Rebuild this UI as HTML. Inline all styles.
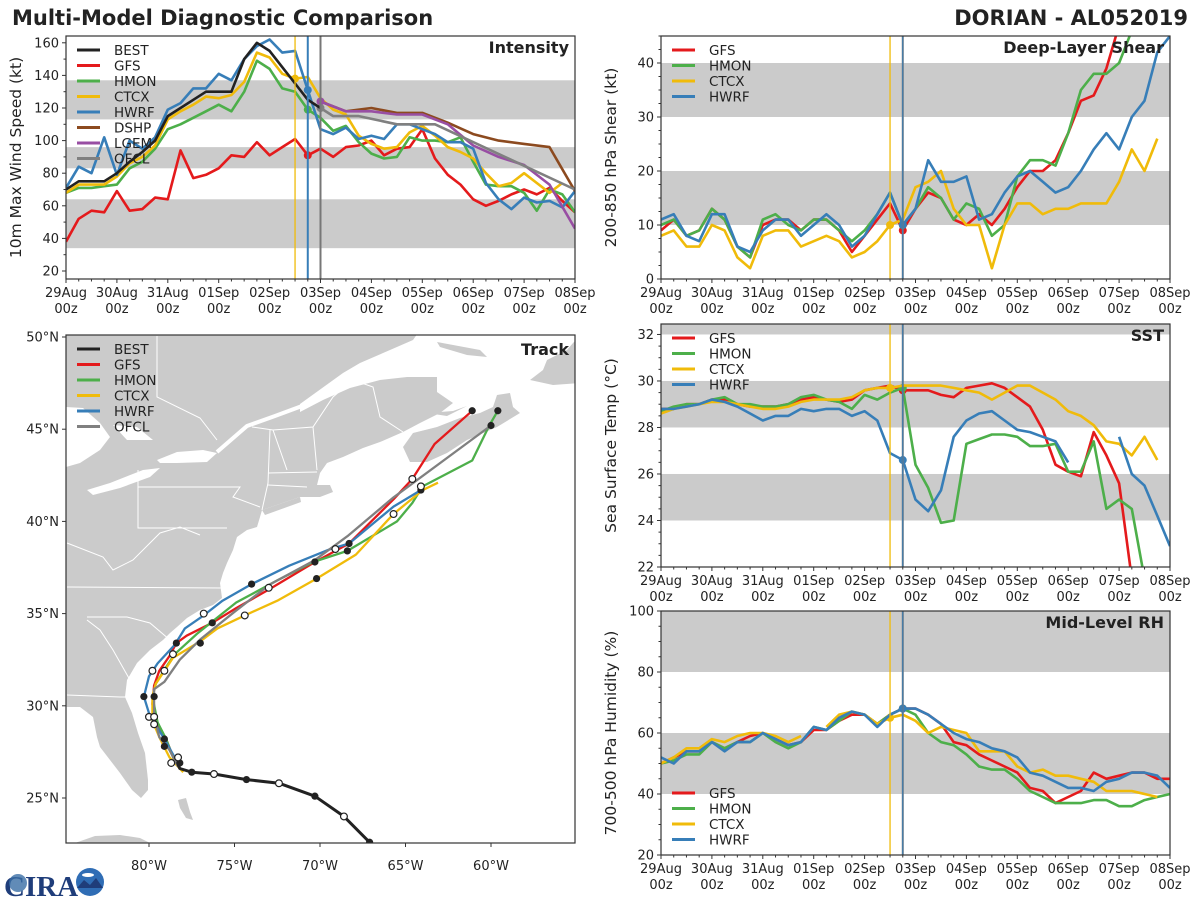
<!DOCTYPE html>
<html><head><meta charset="utf-8"><title>Multi-Model Diagnostic Comparison</title>
<style>
html,body{margin:0;padding:0;background:#fff;}
svg{display:block;font-family:"DejaVu Sans","Liberation Sans",sans-serif;}
</style></head>
<body>
<svg id="fig" xmlns="http://www.w3.org/2000/svg" width="1200" height="900" viewBox="0 0 1200 900">
<rect x="0" y="0" width="1200" height="900" fill="#fff"/>
<text x="12" y="25" font-size="21" font-weight="bold" fill="#222">Multi-Model Diagnostic Comparison</text>
<text x="1188" y="25" font-size="21" font-weight="bold" fill="#222" text-anchor="end">DORIAN - AL052019</text>
<defs>
<clipPath id="clipInt"><rect x="66" y="36" width="509" height="243"/></clipPath>
<clipPath id="clipShr"><rect x="661" y="36" width="509" height="243"/></clipPath>
<clipPath id="clipSst"><rect x="661" y="324" width="509" height="243"/></clipPath>
<clipPath id="clipRh"><rect x="661" y="611" width="509" height="244"/></clipPath>
<clipPath id="clipMap"><rect x="66" y="335" width="509" height="508"/></clipPath>
</defs>
<g clip-path="url(#clipMap)">
<rect x="66" y="335" width="509" height="508" fill="#ffffff"/>
<path fill="#cbcbcb" d="M60,707 L80,707 L93,717 L97,737 L100,747 L120,773 L132,790 L141,798 L148,790 L148,780 L145,753 L138,733 L132,713 L125,697 L127,680 L137,663 L150,650 L163,640 L170,633 L177,627 L187,618 L200,610 L213,605 L222,598 L220,583 L223,573 L227,563 L233,550 L237,537 L247,530 L257,527 L260,517 L262,510 L300,497 L320,497 L333,492 L330,485 L317,485 L320,473 L327,463 L343,457 L363,448 L380,442 L403,432 L420,423 L440,413 L453,403 L437,392 L437,377 L407,377 L380,380 L350,388 L323,400 L300,412 L300,404 L343,373 L360,363 L390,350 L413,340 L420,330 L60,330 Z"/>
<polyline fill="none" stroke="#fff" stroke-width="4" points="217,452 247,426 275,416 302,406"/>
<polygon fill="#cbcbcb" points="403,447 413,433 437,427 460,418 480,413 493,407 497,395 510,393 513,407 520,413 497,427 467,440 447,453 427,462 410,462"/>
<polygon fill="#cbcbcb" points="427,413 453,411 467,406 447,416"/>
<polygon fill="#cbcbcb" points="530,380 543,370 547,360 567,350 573,343 580,336 580,383 553,385"/>
<polygon fill="#cbcbcb" points="437,342 480,350 487,357 467,355 440,347"/>
<polygon fill="#cbcbcb" points="262,510 300,497 301,502 265,515"/>
<polygon fill="#cbcbcb" points="178,800 186,798 190,812 193,820 186,818 180,808"/>
<polygon fill="#cbcbcb" points="75,843 95,836 120,835 140,838 150,843"/>
<polygon fill="#fff" points="157,460 177,452 203,450 217,453 207,462 177,463 160,463"/>
<polygon fill="#fff" points="87,490 110,483 143,470 160,468 150,477 120,488 93,495"/>
<polygon fill="#fff" points="66,407 83,408 100,423 110,437 100,450 80,463 66,467"/>
<polygon fill="#fff" points="113,425 137,427 153,440 127,440"/>
<g fill="none" stroke="#fff" stroke-width="1">
<polyline fill="none" points="157,336 157,397 200,418 217,440"/>
<polyline fill="none" points="252,427 273,430 313,427 333,397 353,380 373,387 380,417 403,432"/>
<polyline fill="none" points="138,470 138,528 227,528"/>
<polyline fill="none" points="138,487 240,487 233,497 260,507"/>
<polyline fill="none" points="67,587 223,588"/>
<polyline fill="none" points="87,617 127,617 150,623 170,640"/>
<polyline fill="none" points="87,620 100,630 113,650 130,680"/>
<polyline fill="none" points="67,695 120,697 127,697"/>
<polyline fill="none" points="67,543 103,557 113,570 133,560 160,533 180,527 200,535"/>
<polyline fill="none" points="270,430 268,483 262,510"/>
<polyline fill="none" points="273,430 287,470"/>
<polyline fill="none" points="313,427 317,470"/>
<polyline fill="none" points="268,473 317,472"/>
<polyline fill="none" points="268,485 307,487"/>
</g>
</g>
<g id="plots"></g>
<g>
<text x="4" y="896" font-size="29" font-weight="bold" fill="#1f3d7a" font-family="Liberation Serif, serif">CIRA</text>
<circle cx="18" cy="883" r="9" fill="#3a6ea5" opacity="0.8"/>
<circle cx="90" cy="882" r="14" fill="#2f6db5"/>
<path d="M77,888 L84,880 L90,885 L96,878 L103,888 Z" fill="#1f3d7a"/>
<ellipse cx="88" cy="875" rx="6" ry="2" fill="#fff"/>
</g>
</svg>
<script>
// ---------- DATA ----------
const dayLabels = ['29Aug','30Aug','31Aug','01Sep','02Sep','03Sep','04Sep','05Sep','06Sep','07Sep','08Sep'];
const intBEST = [70,75,75,75,80,87,93,100,115,120,125,130,130,130,150,160,155,145,135,125,120];
const intGFS  = [38,52,57,56,69,57,58,65,64,94,77,79,83,91,90,99,91,96,101,91,95,90,96,97,100,91,95,96,107,89,79,73,64,60,63,67,70,67,71,63,56];
const intHMON = [68,71,71,72,73,83,87,95,107,110,114,118,122,118,130,149,144,132,130,119,114,106,109,99,92,89,90,102,100,100,99,102,87,73,72,72,68,57,70,67,56];
const intCTCX = [68,73,73,73,78,86,90,97,113,118,122,127,126,128,136,154,151,141,138,139,126,119,116,103,98,95,96,105,109,103,96,93,89,80,72,74,80,74,68,74];
const intHWRF = [71,84,80,102,79,100,95,102,119,123,132,132,141,137,150,158,162,154,155,131,107,104,108,101,103,101,110,110,107,104,99,99,95,74,64,58,65,62,63,59,69];
const intDSHPidx = [20,22,24,26,28,30,32,34,36,38,40];
const intDSHP = [124,118,120,117,117,111,104,100,98,96,69];
const intLGEM = [124,118,118,116,116,110,97,90,85,73,46];
const intOFCLidx = [20,21,23,26,29,40];
const intOFCL = [120,115,115,110,110,70];
const shrGFS  = [9,11,8,9,13,11,6,4,10,11,11,9,11,11,9,5,8,11,14,9,13,16,15,11,10,12,10,13,17,20,20,22,27,33,34,39,47];
const shrHMON = [10,11,8,9,13,11,6,4,11,12,10,9,11,11,9,7,9,12,16,10,13,17,15,11,14,13,8,10,19,22,22,21,27,35,38,38,40,46];
const shrCTCX = [8,9,6,6,10,9,4,2,8,9,9,6,7,8,7,4,5,7,10,11,17,18,20,13,10,10,2,10,14,14,12,13,13,14,14,14,18,24,20,26];
const shrHWRF = [11,12,8,7,12,12,6,5,9,11,11,8,10,12,10,6,8,12,16,10,13,22,18,18,19,11,12,16,19,20,18,16,17,20,24,27,24,30,33,42,45];
const sstGFS  = [28.8,28.8,29,29,29.2,29.2,29,28.9,28.9,28.9,29,29.2,29.3,29.2,29.1,29.2,29.6,29.7,29.8,29.6,29.6,29.6,29.4,29.3,29.7,29.8,29.9,29.7,29.3,28.9,27.9,26.4,26.1,25.9,27.8,26.8,25.6,21.5];
const sstHMON = [28.7,28.9,29,29,29.2,29.3,29,29,28.9,28.9,29,29.3,29.4,29.2,29.1,28.8,29.4,29.2,29.5,29.7,26.4,25.4,23.9,24,27.3,27.5,27.7,27.7,27.6,27.2,27.2,27.3,26.1,26.1,27.4,24.5,24.9,24.5,21.5];
const sstCTCX = [28.6,28.8,28.9,29,29.1,29.1,29,28.9,28.8,28.8,28.9,29.1,29.2,29.2,29.2,29.3,29.6,29.7,29.7,29.8,29.8,29.8,29.8,29.7,29.6,29.5,29.2,29.5,29.8,29.8,29.5,29.2,28.7,28.5,28.1,27.4,27.3,26.8,27.6,26.6];
const sstHWRF = [28.8,28.8,28.9,29,29.2,29.1,28.9,28.6,28.3,28.5,28.5,28.8,28.7,28.8,28.8,28.5,28.7,28.3,26.9,26.6,24.9,24.4,25.3,27.6,28.3,28.6,28.7,28.3,27.9,27.8,27.6,27.4,26.5,null,null,null,27.6,26,25.5,24.2,22.9];
const rhGFS  = [50,52,54,54,57,55,57,59,60,58,56,57,61,61,64,66,66,63,66,68,68,66,63,57,56,53,51,49,47,42,41,37,39,41,47,45,46,47,47,45,45];
const rhHMON = [50,51,53,53,57,55,57,57,60,57,55,57,62,61,64,67,66,63,66,68,66,60,57,56,53,49,48,48,45,41,39,37,37,37,38,38,36,36,38,39,40];
const rhCTCX = [50,52,55,55,58,57,59,60,60,59,57,59,null,62,66,67,66,63,65,66,64,60,62,61,60,54,54,54,49,47,48,46,46,45,44,41,41,41,40,39];
const rhHWRF = [52,50,54,54,57,54,57,57,60,58,56,57,62,61,65,67,66,62,66,68,68,66,63,60,58,57,55,54,52,47,46,44,42,42,41,44,45,47,47,46,42];
const trkBEST = [[-67.1,22.6],[-68.6,24.0],[-70.3,25.1],[-72.4,25.8],[-74.3,26.0],[-76.2,26.3],[-77.5,26.4],[-78.2,26.6],[-78.3,26.8]];
const trkGFS  = [[-78.5,27.0],[-79.0,28.2],[-79.6,29.1],[-79.8,30.1],[-79.7,31.1],[-79.4,31.9],[-78.8,32.7],[-78.4,33.4],[-77.8,33.8],[-76.3,34.5],[-74.9,35.3],[-73.0,36.3],[-70.3,37.8],[-68.3,38.8],[-65.7,41.2],[-64.6,42.3],[-63.3,44.2],[-61.1,46.0]];
const trkHMON = [[-78.5,27.0],[-79.0,28.2],[-79.5,29.1],[-79.8,30.5],[-79.6,31.2],[-79.0,32.1],[-78.5,32.8],[-77.2,33.9],[-74.9,35.6],[-72.5,36.8],[-70.4,37.8],[-68.4,38.4],[-65.5,40.0],[-64.6,41.0],[-64.0,41.9],[-61.1,43.3],[-60.1,45.2],[-59.6,46.0]];
const trkCTCX = [[-78.0,26.4],[-78.8,27.2],[-79.4,28.3],[-79.8,29.2],[-79.8,30.5],[-79.6,31.2],[-79.1,31.9],[-78.6,32.6],[-77.0,33.5],[-76.0,34.2],[-74.4,34.9],[-72.5,35.7],[-70.2,36.9],[-67.9,38.2],[-65.7,40.4],[-64.0,41.7],[-63.1,42.1]];
const trkHWRF = [[-78.5,27.2],[-79.1,28.2],[-79.7,29.1],[-80.0,29.6],[-80.3,30.5],[-80.0,31.6],[-79.5,32.3],[-78.5,33.3],[-77.9,34.2],[-76.8,34.9],[-75.7,35.7],[-74.0,36.6],[-71.8,37.6],[-69.4,38.5],[-68.3,38.8],[-65.7,40.8],[-64.1,41.7]];
const trkOFCL = [[-78.3,26.7],[-78.8,27.6],[-79.4,28.3],[-79.7,29.4],[-79.7,30.9],[-79.1,31.3],[-78.2,32.5],[-77.0,33.6],[-75.0,35.1],[-72.9,36.6],[-70.3,37.9],[-68.4,39.2],[-65.7,41.3],[-60.0,45.2]];
const trkFilled = [[-61.1,46.0],[-59.6,46.0],[-60.0,45.2],[-64.1,41.7],[-68.3,38.8],[-68.4,38.4],[-70.3,37.8],[-70.2,36.9],[-74.0,36.6],[-76.3,34.5],[-77.0,33.4],[-78.4,33.4],[-80.3,30.5],[-79.7,30.5],[-79.1,28.2],[-79.1,27.8],[-78.2,26.9],[-77.5,26.4],[-74.3,26.0],[-70.3,25.1],[-67.1,22.6]];
const trkOpen = [[-64.6,42.3],[-64.1,41.9],[-65.7,40.4],[-69.1,38.5],[-73.0,36.4],[-74.4,34.9],[-76.8,35.0],[-78.6,32.8],[-79.1,31.9],[-79.8,31.9],[-80.0,29.4],[-79.7,29.4],[-79.7,29.0],[-78.3,27.2],[-78.7,26.9],[-76.2,26.3],[-72.4,25.8],[-68.6,24.0]];
const lonTicks = [-80,-75,-70,-65,-60];
const latTicks = [50,45,40,35,30,25];

// ---------- RENDER ----------
const NS = 'http://www.w3.org/2000/svg';
const root = document.getElementById('plots');
function mk(tag, attrs, parent) {
  const e = document.createElementNS(NS, tag);
  for (const k in attrs) e.setAttribute(k, attrs[k]);
  (parent || root).appendChild(e);
  return e;
}
const C = {BEST:'#222222', GFS:'#e41a1c', HMON:'#4daf4a', CTCX:'#f0bb0a', HWRF:'#377eb8', DSHP:'#8c4a1f', LGEM:'#984ea3', OFCL:'#808080'};

function panel(cfg) {
  const xs = i => cfg.x0 + i * (cfg.x1 - cfg.x0) / 40;
  const ys = v => cfg.yb - (v - cfg.vmin) * (cfg.yb - cfg.yt) / (cfg.vmax - cfg.vmin);
  const g = mk('g', {});
  
  
  cfg.bands.forEach(b => {
    const y1 = Math.max(cfg.yt, ys(b[1])), y2 = Math.min(cfg.yb, ys(b[0]));
    const r = mk('rect', {x: cfg.x0, y: y1, width: cfg.x1 - cfg.x0, height: y2 - y1, fill: '#cbcbcb'}, g);
    
    
  });
  const sg = mk('g', {'clip-path': 'url(#' + cfg.clip + ')'}, g);
  
  
  cfg.series.forEach(s => {
    let d = '', pen = false;
    s.vals.forEach((v, k) => {
      const i = s.idx ? s.idx[k] : k;
      if (v === null) { pen = false; return; }
      d += (pen ? 'L' : 'M') + xs(i).toFixed(1) + ',' + ys(v).toFixed(1);
      pen = true;
    });
    const p = mk('path', {d: d, fill: 'none', stroke: C[s.key], 'stroke-width': 2.6, 'stroke-linejoin': 'round'}, sg);
    
    
    if (s.dot !== undefined) {
      const k = s.idx ? s.idx.indexOf(s.dot) : s.dot;
      const c = mk('circle', {cx: xs(s.dot), cy: ys(s.vals[k]), r: 4, fill: C[s.key]}, sg);
      
      
    }
  });
  cfg.vlines.forEach(v => {
    const l = mk('line', {x1: xs(v[0]), x2: xs(v[0]), y1: cfg.yt, y2: cfg.yb, stroke: v[1], 'stroke-width': v[2]}, g);
    
    
  });
  const fr = mk('rect', {x: cfg.x0, y: cfg.yt, width: cfg.x1 - cfg.x0, height: cfg.yb - cfg.yt, fill: 'none', stroke: '#333', 'stroke-width': 1.2}, g);
  
  
  for (let i = 0; i <= 40; i++) {
    const major = i % 4 === 0;
    const t = mk('line', {x1: xs(i), x2: xs(i), y1: cfg.yb, y2: cfg.yb + (major ? 4 : 2.5), stroke: '#333', 'stroke-width': 1}, g);
    
    
  }
  dayLabels.forEach((lab, d) => {
    const t = mk('text', {x: xs(d * 4), y: cfg.yb + 18, 'font-size': 13, 'text-anchor': 'middle', fill: '#222'}, g);
    t.textContent = lab;
    
    
    const t2 = mk('text', {x: xs(d * 4), y: cfg.yb + 34, 'font-size': 13, 'text-anchor': 'middle', fill: '#222'}, g);
    t2.textContent = '00z';
    
    
  });
  for (let v = cfg.minorStart; v <= cfg.vmax + 1e-6; v += cfg.minor) {
    if (v < cfg.vmin - 1e-6) continue;
    const major = Math.abs((v - cfg.majorStart) / cfg.major - Math.round((v - cfg.majorStart) / cfg.major)) < 1e-6;
    const t = mk('line', {x1: cfg.x0, x2: cfg.x0 - (major ? 4 : 2.5), y1: ys(v), y2: ys(v), stroke: '#333', 'stroke-width': 1}, g);
    
    
  }
  cfg.yLabels.forEach(v => {
    const t = mk('text', {x: cfg.x0 - 7, y: ys(v) + 4.5, 'font-size': 13, 'text-anchor': 'end', fill: '#222'}, g);
    t.textContent = String(v);
    
    
  });
  const cy = (cfg.yt + cfg.yb) / 2;
  const yt = mk('text', {x: cfg.x0 - 45, y: cy, 'font-size': 15.5, 'text-anchor': 'middle', fill: '#222', transform: 'rotate(-90 ' + (cfg.x0 - 45) + ' ' + cy + ')'}, g);
  yt.textContent = cfg.ytitle;
  
  
  const tt = mk('text', {x: cfg.x1 - 6, y: cfg.yt + 17, 'font-size': 16, 'font-weight': 'bold', 'text-anchor': 'end', fill: '#222'}, g);
  tt.textContent = cfg.title;
  
  
  legend(g, cfg.legend, cfg.x0 + 11, cfg.legY);
}
function legend(g, keys, x, y0) {
  keys.forEach((k, j) => {
    const y = y0 + j * 15.5;
    const l = mk('line', {x1: x, x2: x + 23, y1: y, y2: y, stroke: C[k], 'stroke-width': 3}, g);
    
    
    const t = mk('text', {x: x + 37, y: y + 5, 'font-size': 13.5, fill: '#222'}, g);
    t.textContent = k;
    
    
  });
}

panel({name:'intensity', x0:66, x1:575, yt:36, yb:279, vmin:15.09, vmax:164.17, clip:'clipInt',
  bands:[[34,64],[83,96],[113,137]], minor:10, minorStart:20, major:20, majorStart:20,
  yLabels:[20,40,60,80,100,120,140,160], ytitle:'10m Max Wind Speed (kt)', title:'Intensity',
  legend:['BEST','GFS','HMON','CTCX','HWRF','DSHP','LGEM','OFCL'], legY:50,
  vlines:[[18,'#f0bb0a',1.3],[19,'#377eb8',2],[20,'#777',2]],
  series:[
    {key:'GFS', vals:intGFS, dot:19},
    {key:'HMON', vals:intHMON, dot:19},
    {key:'CTCX', vals:intCTCX, dot:18},
    {key:'HWRF', vals:intHWRF, dot:19},
    {key:'DSHP', vals:intDSHP, idx:intDSHPidx},
    {key:'LGEM', vals:intLGEM, idx:intDSHPidx, dot:20},
    {key:'OFCL', vals:intOFCL, idx:intOFCLidx, dot:20},
    {key:'BEST', vals:intBEST}
  ]});
panel({name:'shear', x0:661, x1:1170, yt:36, yb:279, vmin:0, vmax:45, clip:'clipShr',
  bands:[[10,20],[30,40]], minor:2.5, minorStart:0, major:10, majorStart:0,
  yLabels:[0,10,20,30,40], ytitle:'200-850 hPa Shear (kt)', title:'Deep-Layer Shear',
  legend:['GFS','HMON','CTCX','HWRF'], legY:50,
  vlines:[[18,'#f0bb0a',1.3],[19,'#777',2],[19,'#377eb8',1]],
  series:[
    {key:'GFS', vals:shrGFS, dot:19},
    {key:'HMON', vals:shrHMON, dot:19},
    {key:'CTCX', vals:shrCTCX, dot:18},
    {key:'HWRF', vals:shrHWRF, dot:19}
  ]});
panel({name:'sst', x0:661, x1:1170, yt:324, yb:567, vmin:22, vmax:32.45, clip:'clipSst',
  bands:[[24,26],[28,30],[32,34]], minor:0.5, minorStart:22, major:2, majorStart:22,
  yLabels:[22,24,26,28,30,32], ytitle:'Sea Surface Temp (°C)', title:'SST',
  legend:['GFS','HMON','CTCX','HWRF'], legY:338,
  vlines:[[18,'#f0bb0a',1.3],[19,'#777',2],[19,'#377eb8',1]],
  series:[
    {key:'GFS', vals:sstGFS, dot:19},
    {key:'HMON', vals:sstHMON, dot:19},
    {key:'CTCX', vals:sstCTCX, dot:18},
    {key:'HWRF', vals:sstHWRF, dot:19}
  ]});
panel({name:'rh', x0:661, x1:1170, yt:611, yb:855, vmin:20, vmax:100, clip:'clipRh',
  bands:[[40,60],[80,100]], minor:5, minorStart:20, major:20, majorStart:20,
  yLabels:[20,40,60,80,100], ytitle:'700-500 hPa Humidity (%)', title:'Mid-Level RH',
  legend:['GFS','HMON','CTCX','HWRF'], legY:793,
  vlines:[[18,'#f0bb0a',1.3],[19,'#777',2],[19,'#377eb8',1]],
  series:[
    {key:'GFS', vals:rhGFS, dot:19},
    {key:'HMON', vals:rhHMON, dot:19},
    {key:'CTCX', vals:rhCTCX, dot:18},
    {key:'HWRF', vals:rhHWRF, dot:19}
  ]});

// ---------- TRACK MAP ----------
const mx = lon => 149 + (lon + 80) * 17.1;
const my = lat => 337 + (50 - lat) * 18.44;
const mg = mk('g', {'clip-path': 'url(#clipMap)'});


[['GFS',trkGFS],['HMON',trkHMON],['CTCX',trkCTCX],['HWRF',trkHWRF],['OFCL',trkOFCL],['BEST',trkBEST]].forEach(s => {
  const pts = s[1].map(p => mx(p[0]).toFixed(1) + ',' + my(p[1]).toFixed(1)).join(' ');
  const pl = mk('polyline', {points: pts, fill: 'none', stroke: C[s[0]], 'stroke-width': s[0] === 'BEST' ? 3 : 2.3, 'stroke-linejoin': 'round'}, mg);
  
  
});
trkFilled.forEach(p => {
  const c = mk('circle', {cx: mx(p[0]), cy: my(p[1]), r: 3.6, fill: '#222'}, mg);
  
  
});
trkOpen.forEach(p => {
  const c = mk('circle', {cx: mx(p[0]), cy: my(p[1]), r: 3.4, fill: '#fff', stroke: '#222', 'stroke-width': 1.2}, mg);
  
  
});
const mf = mk('rect', {x: 66, y: 335, width: 509, height: 508, fill: 'none', stroke: '#333', 'stroke-width': 1.2});


lonTicks.forEach(lon => {
  const t = mk('line', {x1: mx(lon), x2: mx(lon), y1: 843, y2: 847, stroke: '#333'});
  
  
  const tx = mk('text', {x: mx(lon), y: 870, 'font-size': 13, 'text-anchor': 'middle', fill: '#222'});
  tx.textContent = Math.abs(lon) + '°W';
  
  
});
latTicks.forEach(lat => {
  const t = mk('line', {x1: 66, x2: 62, y1: my(lat), y2: my(lat), stroke: '#333'});
  
  
  const tx = mk('text', {x: 59, y: my(lat) + 4.5, 'font-size': 13, 'text-anchor': 'end', fill: '#222'});
  tx.textContent = lat + '°N';
  
  
});
const mt = mk('text', {x: 569, y: 355, 'font-size': 16, 'font-weight': 'bold', 'text-anchor': 'end', fill: '#222'});
mt.textContent = 'Track';


const lg = mk('g', {});


legend(lg, ['BEST','GFS','HMON','CTCX','HWRF','OFCL'], 77, 349);
</script>
</body></html>
